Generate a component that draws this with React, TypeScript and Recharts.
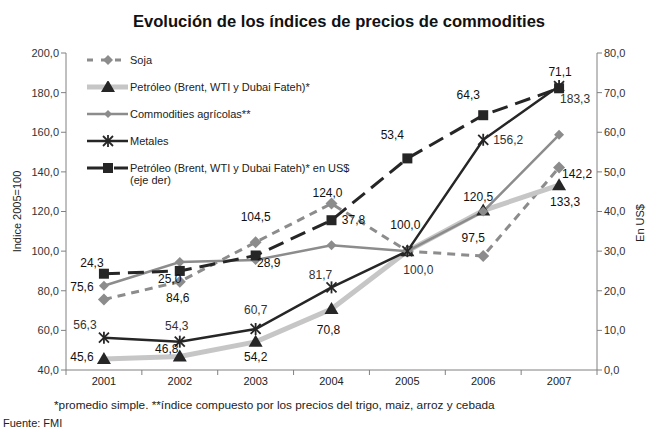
import React from "react";
import { LineChart, Line, XAxis, YAxis } from "recharts";

// años y series (índice 2005=100, salvo petróleo en US$)
const years = ["2001", "2002", "2003", "2004", "2005", "2006", "2007"];
const soja = [75.6, 84.6, 104.5, 124.0, 100.0, 97.5, 142.2];
const petroleo = [45.6, 46.8, 54.2, 70.8, 100.0, 120.5, 133.3];
const agricolas = [82.5, 94.5, 95.5, 103.0, 100.0, 120.0, 158.7];
const metales = [56.3, 54.3, 60.7, 81.7, 100.0, 156.2, 183.3];
const petroleoUsd = [24.3, 25.0, 28.9, 37.8, 53.4, 64.3, 71.1];

const leftTicks = [40, 60, 80, 100, 120, 140, 160, 180, 200];
const rightTicks = [0, 10, 20, 30, 40, 50, 60, 70, 80];

const data = years.map((year, i) => ({
  x: i + 0.5,
  year,
  soja: soja[i],
  petroleo: petroleo[i],
  agricolas: agricolas[i],
  metales: metales[i],
  petroleoUsd: petroleoUsd[i],
}));

// layout
const W = 650;
const H = 432;
const PLOT_LEFT = 66;
const PLOT_RIGHT = 597;
const PLOT_TOP = 53;
const PLOT_BOTTOM = 370;
const BAND = (PLOT_RIGHT - PLOT_LEFT) / years.length;
const FONT = "'Liberation Sans', Arial, sans-serif";

const fmt = (v: number) => v.toFixed(1).replace(".", ",");

// label offsets (dx, dy) from each point; null = no label
type Off = [number, number] | null;
const sojaOff: Off[] = [[-22, -12], [-2, 16], [0, -25], [-4, -11], null, [-10, -18], [18, 6]];
const petroleoOff: Off[] = [[-22, -2], [-13, -8], [0, 15], [-3, 21], [-2, -26], [-5, -14], [6, 17]];
const metalesOff: Off[] = [[-19, -13], [-3, -16], [0, -19], [-11, -12], [11, 19], [25, 0], [16, 13]];
const usdOff: Off[] = [[-12, -11], [-10, 8], [13, 8], [22, 0], [-15, -23], [-15, -20], [1, -16]];

const DARK = "#262626";
const MID = "#8c8c8c";
const LIGHT = "#c6c6c6";

// marker shapes
const diamond = (cx: number, cy: number, r: number, fill: string, key?: any) => (
  <polygon key={key} points={`${cx},${cy - r} ${cx + r},${cy} ${cx},${cy + r} ${cx - r},${cy}`} fill={fill} />
);
const triangle = (cx: number, cy: number, key?: any) => (
  <polygon key={key} points={`${cx},${cy - 7} ${cx + 7},${cy + 5} ${cx - 7},${cy + 5}`} fill={DARK} />
);
const square = (cx: number, cy: number, key?: any) => (
  <rect key={key} x={cx - 5} y={cy - 5} width={10} height={10} fill={DARK} />
);
const asterisk = (cx: number, cy: number, key?: any) => (
  <g key={key} stroke={DARK} strokeWidth={1.8}>
    <line x1={cx - 5} y1={cy - 5} x2={cx + 5} y2={cy + 5} />
    <line x1={cx - 5} y1={cy + 5} x2={cx + 5} y2={cy - 5} />
    <line x1={cx} y1={cy - 6} x2={cx} y2={cy + 6} />
  </g>
);

const makeLabel = (offs: Off[], color: string) => (p: any) => {
  const o = offs[p.index];
  if (!o || p.value == null) return null;
  return (
    <text
      key={`l${p.index}`}
      x={p.x + o[0]}
      y={p.y + o[1]}
      textAnchor="middle"
      dominantBaseline="central"
      fontSize={12}
      fontFamily={FONT}
      fill={color}
    >
      {fmt(p.value)}
    </text>
  );
};

const YearTick = (props: any) => {
  const { x, y, payload } = props;
  if (payload.value >= years.length) return null;
  return (
    <text x={x + BAND / 2} y={y + 8} textAnchor="middle" fontSize={11} fontFamily={FONT} fill="#222">
      {years[payload.value]}
    </text>
  );
};

const legendItems = [
  { name: "Soja", stroke: MID, width: 3, dash: "6 8", marker: (cx: number, cy: number) => diamond(cx, cy, 5, MID) },
  { name: "Petróleo (Brent, WTI y Dubai Fateh)*", stroke: LIGHT, width: 5, dash: undefined, marker: triangle },
  { name: "Commodities agrícolas**", stroke: MID, width: 2.5, dash: undefined, marker: (cx: number, cy: number) => diamond(cx, cy, 4, MID) },
  { name: "Metales", stroke: DARK, width: 2.5, dash: undefined, marker: asterisk },
  { name: "Petróleo (Brent, WTI y Dubai Fateh)* en US$", sub: "(eje der)", stroke: DARK, width: 3, dash: "22 5", marker: square },
];

const LegendBox = () => (
  <div style={{ position: "absolute", left: 87, top: 54, fontFamily: FONT, fontSize: 11, color: "#222" }}>
    {legendItems.map((it) => (
      <div key={it.name} style={{ display: "flex", alignItems: "flex-start", height: 27 }}>
        <svg width={42} height={12} style={{ flex: "none" }}>
          <line x1={0} y1={6} x2={41} y2={6} stroke={it.stroke} strokeWidth={it.width} strokeDasharray={it.dash} />
          {it.marker(21, 6)}
        </svg>
        <div style={{ lineHeight: "12px", marginLeft: 1 }}>
          {it.name}
          {it.sub && <div>{it.sub}</div>}
        </div>
      </div>
    ))}
  </div>
);

export default function App() {
  return (
    <div style={{ position: "absolute", left: 0, top: 0, width: W, height: H, background: "#fff", fontFamily: FONT }}>
      <LineChart
        width={W}
        height={H}
        data={data}
        margin={{ top: PLOT_TOP, right: 0, bottom: H - PLOT_BOTTOM - 30, left: 0 }}
      >
        <XAxis
          dataKey="x"
          type="number"
          domain={[0, years.length]}
          ticks={[0, 1, 2, 3, 4, 5, 6, 7]}
          interval={0}
          height={30}
          tick={<YearTick />}
          tickSize={5}
          axisLine={{ stroke: "#808080" }}
          tickLine={{ stroke: "#808080" }}
        />
        <YAxis
          yAxisId="left"
          domain={[40, 200]}
          ticks={leftTicks}
          width={PLOT_LEFT}
          tickFormatter={fmt}
          tickSize={5}
          tick={{ fontSize: 11, fill: "#333", fontFamily: FONT }}
          axisLine={{ stroke: "#808080" }}
          tickLine={{ stroke: "#808080" }}
        />
        <YAxis
          yAxisId="right"
          orientation="right"
          domain={[0, 80]}
          ticks={rightTicks}
          width={W - PLOT_RIGHT}
          tickFormatter={fmt}
          tickSize={5}
          tick={{ fontSize: 11, fill: "#333", fontFamily: FONT }}
          axisLine={{ stroke: "#808080" }}
          tickLine={{ stroke: "#808080" }}
        />
        <Line
          yAxisId="left"
          dataKey="soja"
          stroke={MID}
          strokeWidth={3}
          strokeDasharray="8 6"
          dot={(p: any) => diamond(p.cx, p.cy, 6, MID, `d${p.index}`)}
          label={makeLabel(sojaOff, "#111")}
          isAnimationActive={false}
        />
        <Line
          yAxisId="left"
          dataKey="petroleo"
          stroke={LIGHT}
          strokeWidth={5}
          dot={(p: any) => triangle(p.cx, p.cy, `d${p.index}`)}
          label={makeLabel(petroleoOff, "#111")}
          isAnimationActive={false}
        />
        <Line
          yAxisId="left"
          dataKey="agricolas"
          stroke={MID}
          strokeWidth={2.5}
          dot={(p: any) => diamond(p.cx, p.cy, 5, MID, `d${p.index}`)}
          isAnimationActive={false}
        />
        <Line
          yAxisId="left"
          dataKey="metales"
          stroke={DARK}
          strokeWidth={2.5}
          dot={(p: any) => asterisk(p.cx, p.cy, `d${p.index}`)}
          label={makeLabel(metalesOff, "#333")}
          isAnimationActive={false}
        />
        <Line
          yAxisId="right"
          dataKey="petroleoUsd"
          stroke={DARK}
          strokeWidth={3}
          strokeDasharray="16 8"
          dot={(p: any) => square(p.cx, p.cy, `d${p.index}`)}
          label={makeLabel(usdOff, "#111")}
          isAnimationActive={false}
        />
      </LineChart>

      <LegendBox />

      <svg width={W} height={H} style={{ position: "absolute", left: 0, top: 0, pointerEvents: "none" }}>
        <text x={339} y={27} textAnchor="middle" fontSize={16.6} fontWeight="bold" fontFamily={FONT} fill="#111">
          Evolución de los índices de precios de commodities
        </text>
        <text
          transform={`translate(21, ${(PLOT_TOP + PLOT_BOTTOM) / 2}) rotate(-90)`}
          textAnchor="middle"
          fontSize={11}
          fontFamily={FONT}
          fill="#222"
        >
          Indice 2005=100
        </text>
        <text
          transform={`translate(644, 223) rotate(-90)`}
          textAnchor="middle"
          fontSize={11}
          fontFamily={FONT}
          fill="#222"
        >
          En US$
        </text>
        <text x={54} y={409} fontSize={11.8} fontFamily={FONT} fill="#222">
          *promedio simple. **índice compuesto por los precios del trigo, maiz, arroz y cebada
        </text>
        <text x={3} y={427} fontSize={11} fontFamily={FONT} fill="#222">
          Fuente: FMI
        </text>
      </svg>
    </div>
  );
}
